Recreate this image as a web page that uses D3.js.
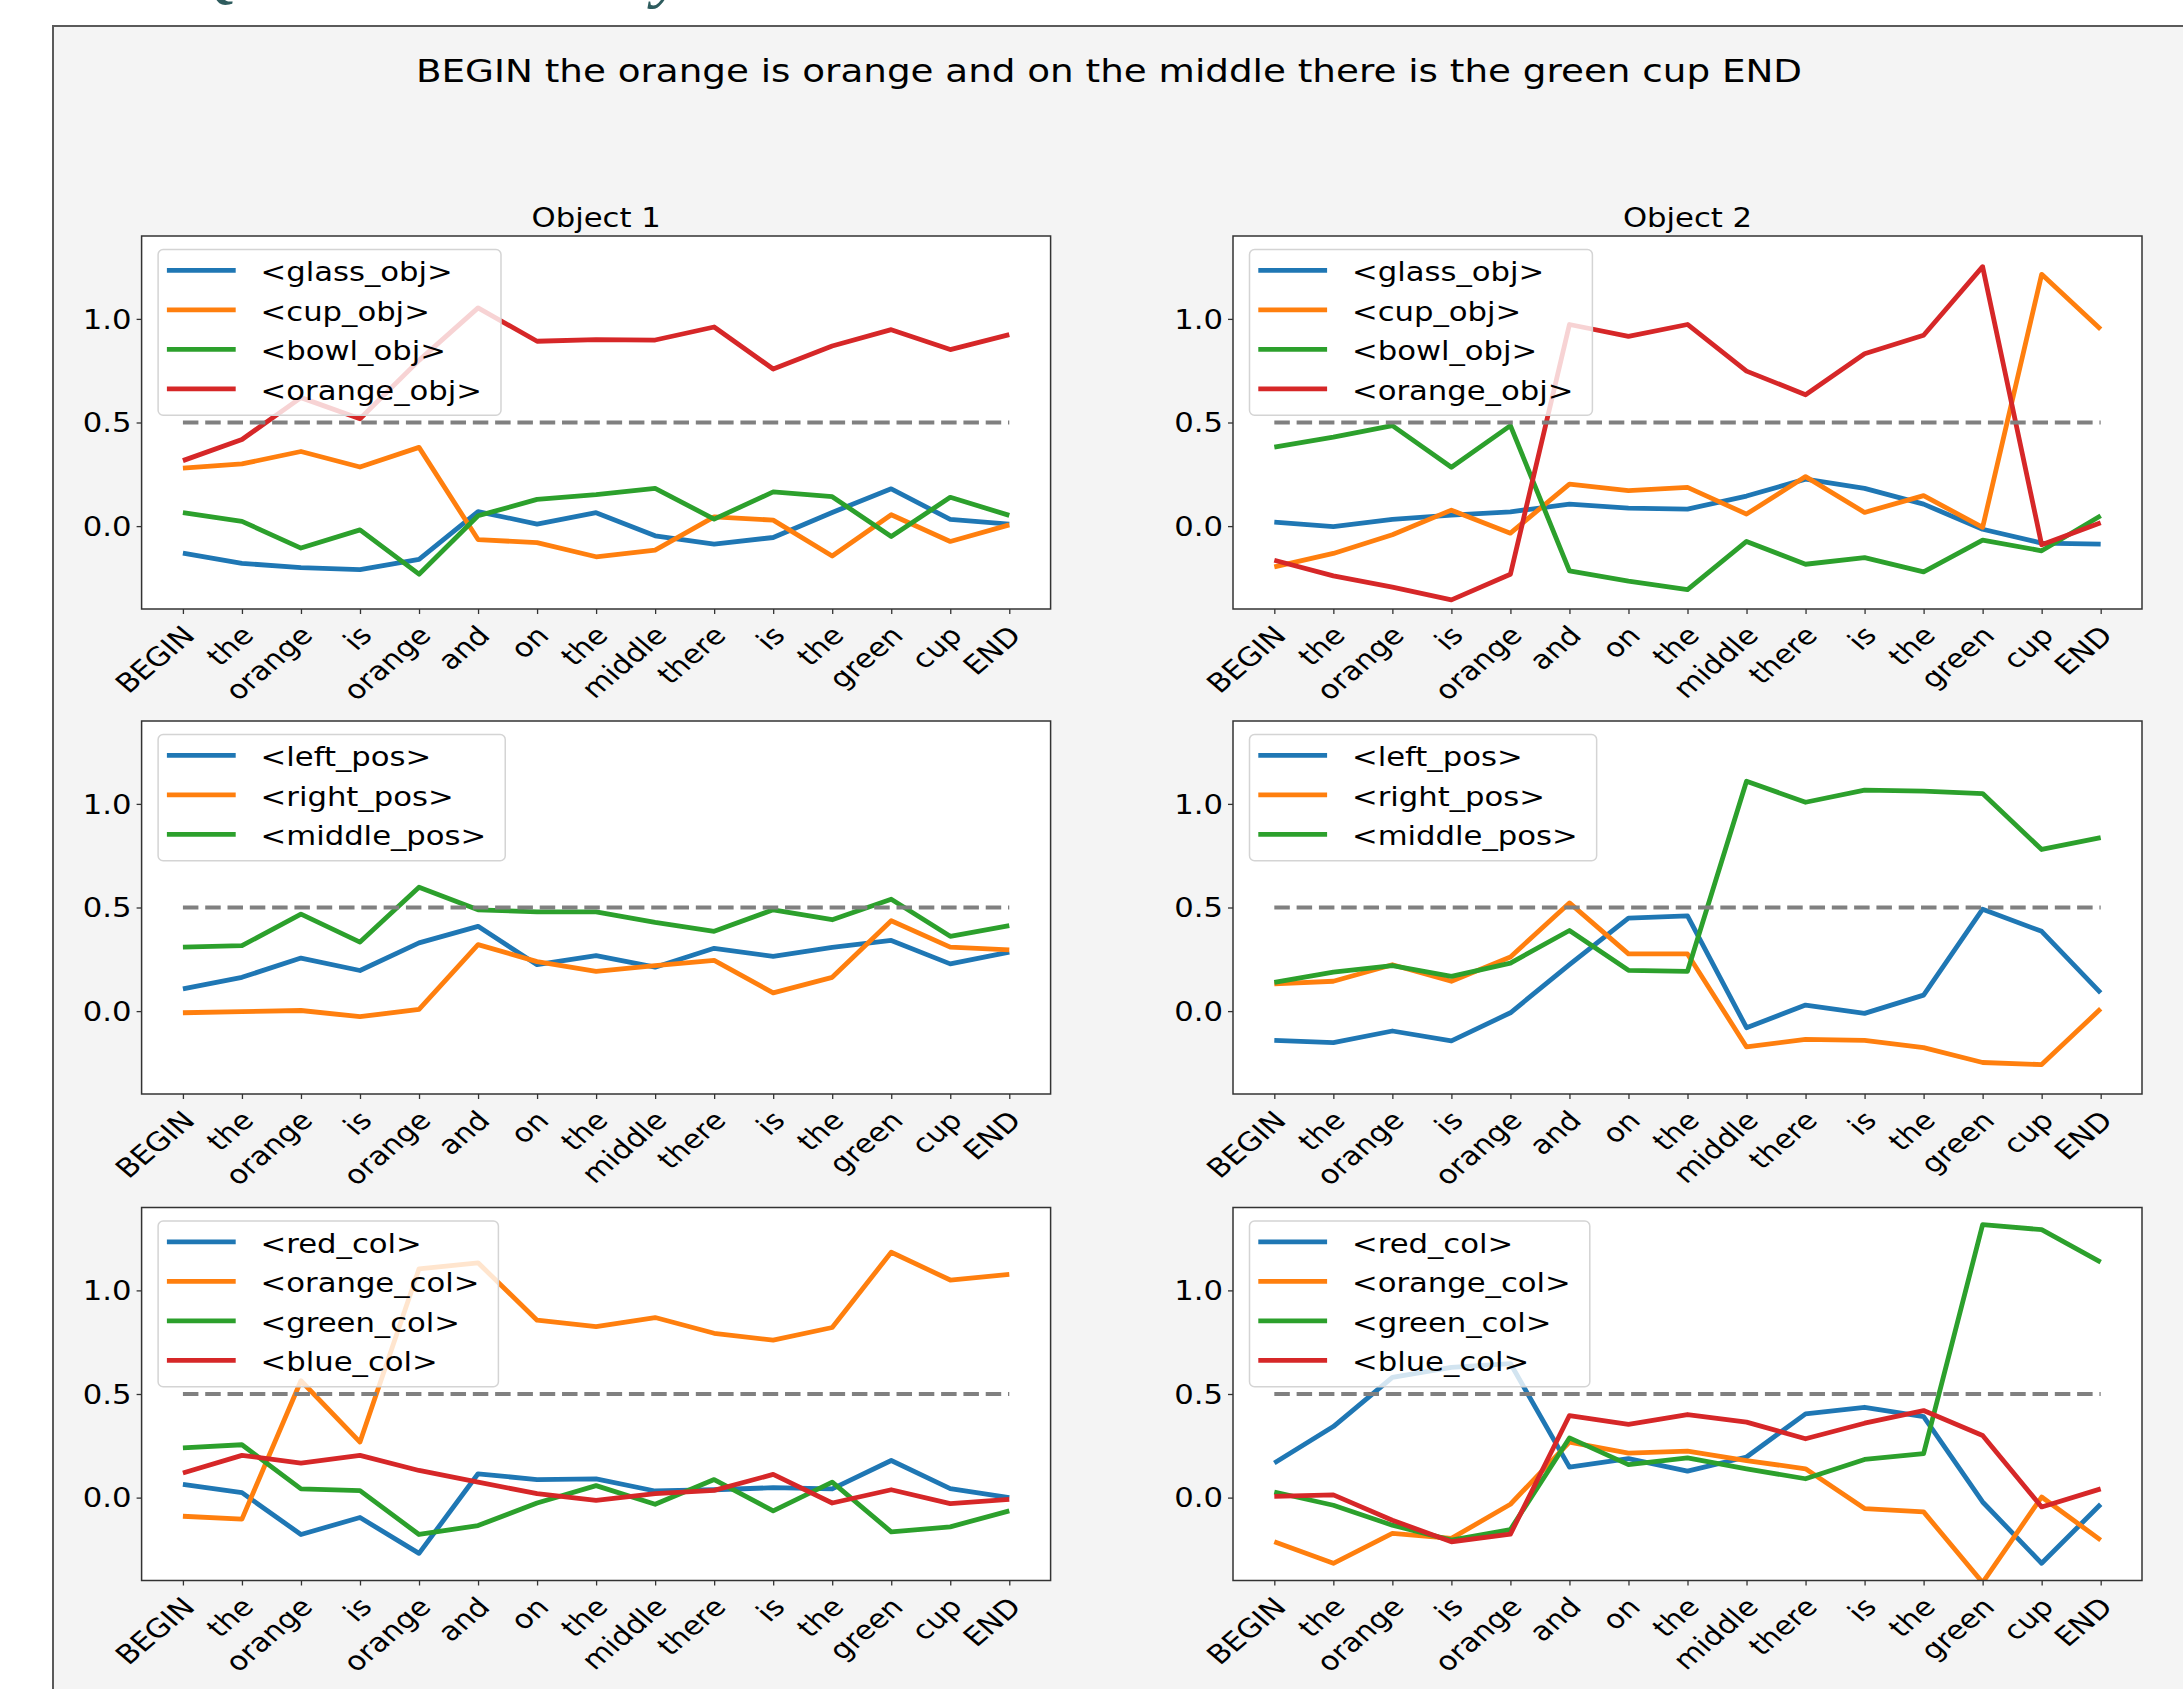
<!DOCTYPE html>
<html>
<head>
<meta charset="utf-8">
<script src="https://cdn.jsdelivr.net/npm/d3@7"></script>
<style>
html, body { margin: 0; padding: 0; background: #fff; }
svg { display: block; }
</style>
</head>
<body>
<svg id="chart"></svg>
<script>
// ---- data ----
const tokens = ["BEGIN","the","orange","is","orange","and","on","the","middle","there","is","the","green","cup","END"];
const objLabels = ["<glass_obj>","<cup_obj>","<bowl_obj>","<orange_obj>"];
const posLabels = ["<left_pos>","<right_pos>","<middle_pos>"];
const colLabels = ["<red_col>","<orange_col>","<green_col>","<blue_col>"];
const yTicks = [0.0, 0.5, 1.0];
const threshold = 0.5;

// object 1
const o1Glass  = [-0.13,-0.18,-0.20,-0.21,-0.16,0.07,0.01,0.065,-0.047,-0.087,-0.055,0.066,0.18,0.032,0.01];
const o1Cup    = [0.28,0.30,0.36,0.285,0.38,-0.065,-0.08,-0.148,-0.116,0.045,0.029,-0.144,0.055,-0.074,0.006];
const o1Bowl   = [0.065,0.023,-0.106,-0.018,-0.232,0.05,0.129,0.152,0.182,0.034,0.165,0.142,-0.05,0.139,0.052];
const o1Orange = [0.316,0.418,0.62,0.518,0.80,1.053,0.892,0.90,0.898,0.961,0.758,0.869,0.948,0.852,0.924];
// object 2
const o2Glass  = [0.019,-0.002,0.032,0.053,0.069,0.106,0.087,0.082,0.145,0.227,0.182,0.106,-0.015,-0.082,-0.087];
const o2Cup    = [-0.197,-0.132,-0.042,0.077,-0.034,0.203,0.171,0.187,0.058,0.239,0.066,0.147,-0.006,1.215,0.95];
const o2Bowl   = [0.381,0.429,0.485,0.284,0.485,-0.216,-0.265,-0.306,-0.074,-0.184,-0.152,-0.221,-0.068,-0.119,0.05];
const o2Orange = [-0.165,-0.24,-0.294,-0.356,-0.232,0.973,0.916,0.973,0.748,0.634,0.832,0.921,1.252,-0.09,0.016];
// positions
const p1Left   = [0.107,0.163,0.256,0.196,0.329,0.409,0.224,0.268,0.212,0.303,0.264,0.308,0.341,0.228,0.285];
const p1Right  = [-0.008,-0.002,0.003,-0.027,0.008,0.321,0.239,0.192,0.22,0.245,0.088,0.163,0.436,0.309,0.296];
const p1Middle = [0.309,0.316,0.468,0.333,0.598,0.489,0.479,0.479,0.428,0.385,0.489,0.441,0.54,0.361,0.412];
const p2Left   = [-0.141,-0.152,-0.096,-0.144,-0.008,0.224,0.449,0.46,-0.08,0.029,-0.011,0.077,0.492,0.385,0.088];
const p2Right  = [0.131,0.144,0.224,0.144,0.261,0.522,0.276,0.276,-0.173,-0.136,-0.141,-0.176,-0.248,-0.258,0.011];
const p2Middle = [0.139,0.188,0.22,0.168,0.232,0.389,0.197,0.192,1.109,1.008,1.066,1.062,1.05,0.78,0.837];
// colours
const c1Red    = [0.064,0.024,-0.178,-0.096,-0.269,0.115,0.087,0.09,0.032,0.038,0.048,0.042,0.179,0.043,0.0];
const c1Orange = [-0.09,-0.104,0.564,0.268,1.104,1.133,0.856,0.825,0.869,0.793,0.76,0.821,1.184,1.05,1.077];
const c1Green  = [0.24,0.255,0.042,0.034,-0.178,-0.135,-0.026,0.058,-0.032,0.087,-0.064,0.075,-0.165,-0.141,-0.064];
const c1Blue   = [0.119,0.204,0.167,0.204,0.131,0.075,0.019,-0.013,0.019,0.035,0.112,-0.026,0.038,-0.029,-0.008];
const c2Red    = [0.167,0.343,0.58,0.628,0.647,0.147,0.188,0.128,0.196,0.404,0.436,0.391,-0.021,-0.317,-0.032];
const c2Orange = [-0.213,-0.317,-0.173,-0.197,-0.032,0.268,0.215,0.224,0.179,0.139,-0.053,-0.069,-0.41,0.003,-0.205];
const c2Green  = [0.027,-0.037,-0.133,-0.205,-0.154,0.288,0.159,0.192,0.139,0.091,0.184,0.212,1.317,1.293,1.136];
const c2Blue   = [0.006,0.013,-0.109,-0.213,-0.176,0.396,0.353,0.401,0.364,0.284,0.359,0.42,0.3,-0.045,0.042];

const colors = ["#1f77b4","#ff7f0e","#2ca02c","#d62728"];

const panels = [
  {col:0,row:0,title:"Object 1",labels:objLabels,series:[o1Glass,o1Cup,o1Bowl,o1Orange]},
  {col:1,row:0,title:"Object 2",labels:objLabels,series:[o2Glass,o2Cup,o2Bowl,o2Orange]},
  {col:0,row:1,title:"",labels:posLabels,series:[p1Left,p1Right,p1Middle]},
  {col:1,row:1,title:"",labels:posLabels,series:[p2Left,p2Right,p2Middle]},
  {col:0,row:2,title:"",labels:colLabels,series:[c1Red,c1Orange,c1Green,c1Blue]},
  {col:1,row:2,title:"",labels:colLabels,series:[c2Red,c2Orange,c2Green,c2Blue]}
];

// ---- layout ----
const W = 2183, H = 1689;
const SX = 1.18;           // the picture is a little wider than tall
const font = "DejaVu Sans";
const colX = [141.6, 1233];
const rowY = [236, 721, 1207.5];
const aw = 909, ah = 373;

const svg = d3.select("#chart").attr("width", W).attr("height", H);

// page heading, only its descenders show above the figure
svg.append("text")
  .attr("x", 190).attr("y", -6)
  .attr("font-family", "Liberation Serif").attr("font-style", "italic")
  .attr("font-size", 70).attr("fill", "#2e5c5e")
  .text("Qualitative Analysis");

// figure frame
svg.append("rect")
  .attr("x", 53).attr("y", 26).attr("width", W).attr("height", H)
  .attr("fill", "#f4f4f4").attr("stroke", "#5a5a5a").attr("stroke-width", 2);

svg.append("text")
  .attr("transform", `translate(1109,81.7) scale(${SX},1)`)
  .attr("text-anchor", "middle")
  .attr("font-family", font).attr("font-size", 31.6).attr("fill", "#000")
  .text(tokens.join(" "));

const x = d3.scaleLinear().domain([-0.7, 14.7]).range([0, aw]);
const y = d3.scaleLinear().domain([-0.4, 1.4]).range([ah, 0]);

const line = d3.line()
  .x((d, i) => x(i))
  .y(d => y(d));

panels.forEach((p, pi) => {
  const g = svg.append("g")
    .attr("transform", `translate(${colX[p.col]},${rowY[p.row]})`);

  g.append("rect")
    .attr("width", aw).attr("height", ah)
    .attr("fill", "#fff");

  const clipId = "clip" + pi;
  g.append("clipPath").attr("id", clipId)
    .append("rect").attr("width", aw).attr("height", ah);

  const plot = g.append("g").attr("clip-path", `url(#${clipId})`);

  plot.selectAll("path.series")
    .data(p.series)
    .enter()
    .append("path")
    .attr("class", "series")
    .attr("d", line)
    .attr("fill", "none")
    .attr("stroke", (d, i) => colors[i])
    .attr("stroke-width", 4.8)
    .attr("stroke-linejoin", "round");

  plot.append("line")
    .attr("x1", x(0)).attr("x2", x(tokens.length - 1))
    .attr("y1", y(threshold)).attr("y2", y(threshold))
    .attr("stroke", "#808080")
    .attr("stroke-width", 4)
    .attr("stroke-dasharray", "15.5 6.8");

  // axes
  const xAxis = g.append("g")
    .attr("transform", `translate(0,${ah})`)
    .call(d3.axisBottom(x)
      .tickValues(d3.range(tokens.length))
      .tickFormat(i => tokens[i])
      .tickSize(5).tickSizeOuter(0));
  xAxis.select(".domain").remove();
  xAxis.selectAll("line").attr("stroke", "#333").attr("stroke-width", 1.3);
  xAxis.selectAll("text")
    .attr("x", null).attr("y", null).attr("dy", null)
    .attr("transform", `translate(13,28) scale(${SX},1) rotate(-45)`)
    .attr("text-anchor", "end")
    .attr("font-family", font).attr("font-size", 26).attr("fill", "#000");

  const yAxis = g.append("g")
    .call(d3.axisLeft(y)
      .tickValues(yTicks)
      .tickFormat(d3.format(".1f"))
      .tickSize(5).tickSizeOuter(0));
  yAxis.select(".domain").remove();
  yAxis.selectAll("line").attr("stroke", "#333").attr("stroke-width", 1.3);
  yAxis.selectAll("text")
    .attr("x", null).attr("dy", "0.36em")
    .attr("transform", `translate(-10,0) scale(${SX},1)`)
    .attr("text-anchor", "end")
    .attr("font-family", font).attr("font-size", 26).attr("fill", "#000");

  g.append("rect")
    .attr("width", aw).attr("height", ah)
    .attr("fill", "none").attr("stroke", "#333").attr("stroke-width", 1.5);

  if (p.title) {
    g.append("text")
      .attr("transform", `translate(${aw / 2},-9) scale(${SX},1)`)
      .attr("text-anchor", "middle")
      .attr("font-family", font).attr("font-size", 26).attr("fill", "#000")
      .text(p.title);
  }

  // legend
  const leg = g.append("g").attr("transform", "translate(16.5,13.5)");
  const rowGap = 39.5, firstRow = 20.8;
  const box = leg.append("rect")
    .attr("rx", 5).attr("ry", 5)
    .attr("height", firstRow + (p.labels.length - 1) * rowGap + 26.5)
    .attr("fill", "#fff").attr("fill-opacity", 0.8)
    .attr("stroke", "#d4d4d4").attr("stroke-width", 1.5);

  leg.selectAll("line.handle")
    .data(p.labels)
    .enter()
    .append("line")
    .attr("class", "handle")
    .attr("x1", 8.8).attr("x2", 77.6)
    .attr("y1", (d, i) => firstRow + i * rowGap)
    .attr("y2", (d, i) => firstRow + i * rowGap)
    .attr("stroke", (d, i) => colors[i])
    .attr("stroke-width", 4.8);

  const labels = leg.selectAll("text.lab")
    .data(p.labels)
    .enter()
    .append("text")
    .attr("class", "lab")
    .attr("transform", (d, i) => `translate(102.5,${firstRow + i * rowGap + 11}) scale(${SX},1)`)
    .attr("font-family", font).attr("font-size", 26).attr("fill", "#000")
    .text(d => d);

  let maxLen = 0;
  labels.each(function () { maxLen = Math.max(maxLen, this.getComputedTextLength()); });
  box.attr("width", 102.5 + maxLen * SX + 19);
});
</script>
</body>
</html>
